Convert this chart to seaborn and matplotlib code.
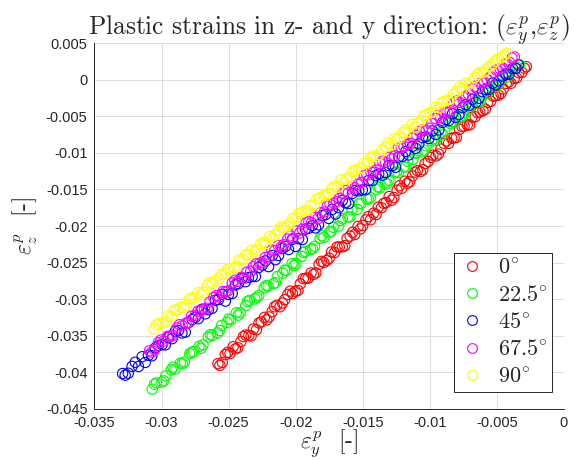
import numpy as np
import pandas as pd
import matplotlib
matplotlib.use("Agg")
import matplotlib.pyplot as plt
from matplotlib.lines import Line2D
import seaborn as sns

# Load angle of each test and the colour used for it
angles = ["0", "22.5", "45", "67.5", "90"]
colors = ["#ff0000", "#00ff00", "#0000ff", "#ff00ff", "#ffff00"]

# Plastic strains (eps_y, eps_z), listed in units of 1e-3
ey_0 = [-25.80, -25.47, -25.25, -24.90, -24.66, -24.31, -24.08, -23.72, -23.49, -23.15,
        -22.92, -22.57, -22.33, -21.98, -21.76, -21.41, -21.17, -20.82, -20.59, -20.24,
        -20.01, -19.66, -19.43, -19.08, -18.85, -18.50, -18.26, -17.91, -17.68, -17.33,
        -17.10, -16.75, -16.52, -16.17, -15.94, -15.59, -15.35, -15.00, -14.77, -14.42,
        -14.19, -13.84, -13.61, -13.26, -13.03, -12.68, -12.44, -12.09, -11.86, -11.51,
        -11.28, -10.93, -10.70, -10.35, -10.12, -9.77, -9.53, -9.18, -8.95, -8.60,
        -8.37, -8.02, -7.79, -7.44, -7.21, -6.86, -6.62, -6.27, -6.04, -5.69,
        -5.46, -5.11, -4.88, -4.53, -4.30, -3.95, -3.71, -3.36, -3.13, -2.81,
        -25.65, -25.07, -24.49, -23.90, -23.32, -22.74, -22.16, -21.58, -20.99, -20.41,
        -19.83, -19.25, -18.67, -18.08, -17.50, -16.92, -16.34, -15.76, -15.17, -14.59,
        -14.01, -13.43, -12.85, -12.26, -11.68, -11.10, -10.52, -9.94, -9.35, -8.77,
        -8.19, -7.61, -7.03, -6.44, -5.86, -5.28, -4.70, -4.12, -3.53, -2.95]
ez_0 = [-38.80, -38.64, -37.57, -37.41, -36.49, -36.63, -35.77, -34.90, -34.94, -34.07,
        -34.16, -33.10, -32.48, -32.42, -31.70, -30.84, -31.03, -30.06, -29.35, -29.23,
        -28.92, -27.91, -27.19, -27.13, -26.41, -26.40, -25.24, -24.97, -24.71, -23.54,
        -23.63, -22.87, -22.85, -21.69, -21.37, -21.16, -20.05, -19.93, -19.17, -19.15,
        -18.24, -17.43, -17.51, -16.80, -15.98, -16.12, -15.11, -14.84, -13.88, -13.96,
        -13.15, -12.44, -12.57, -11.46, -11.19, -10.33, -10.42, -9.50, -8.69, -8.72,
        -8.01, -7.90, -6.78, -6.37, -6.20, -5.14, -5.08, -4.41, -4.25, -3.13,
        -2.97, -2.21, -2.14, -1.28, -0.51, -0.50, 0.16, 0.93, 0.99, 1.76,
        -39.04, -37.26, -36.78, -35.11, -35.03, -33.25, -32.82, -31.04, -30.52, -28.89,
        -28.81, -27.13, -26.60, -24.83, -24.40, -22.87, -22.69, -20.86, -20.39, -18.71,
        -18.43, -16.90, -16.47, -14.50, -14.17, -12.64, -12.31, -10.63, -10.16, -8.38,
        -7.95, -6.42, -6.19, -4.52, -4.04, -2.26, -1.88, -0.30, 0.22, 1.55]

ey_22 = [-30.70, -30.38, -29.98, -29.69, -29.28, -28.99, -28.60, -28.30, -27.90, -27.61,
         -27.20, -26.91, -26.52, -26.22, -25.82, -25.53, -25.12, -24.83, -24.43, -24.14,
         -23.73, -23.45, -23.04, -22.75, -22.35, -22.06, -21.65, -21.37, -20.96, -20.67,
         -20.27, -19.98, -19.57, -19.29, -18.88, -18.59, -18.19, -17.90, -17.49, -17.20,
         -16.80, -16.51, -16.10, -15.82, -15.41, -15.12, -14.72, -14.43, -14.02, -13.74,
         -13.33, -13.04, -12.64, -12.35, -11.94, -11.66, -11.25, -10.96, -10.56, -10.27,
         -9.86, -9.58, -9.17, -8.88, -8.47, -8.19, -7.78, -7.49, -7.09, -6.80,
         -6.39, -6.11, -5.70, -5.41, -5.01, -4.72, -4.31, -4.03, -3.62, -3.30,
         -30.53, -29.84, -29.14, -28.45, -27.76, -27.06, -26.37, -25.67, -24.98, -24.29,
         -23.59, -22.90, -22.21, -21.51, -20.82, -20.13, -19.43, -18.74, -18.05, -17.35,
         -16.66, -15.96, -15.27, -14.58, -13.88, -13.19, -12.50, -11.80, -11.11, -10.42,
         -9.72, -9.03, -8.33, -7.64, -6.95, -6.25, -5.56, -4.87, -4.17, -3.48]
ez_22 = [-42.30, -41.44, -41.33, -40.47, -39.66, -39.55, -38.73, -38.57, -37.46, -37.15,
         -36.44, -36.23, -35.17, -34.96, -34.60, -33.59, -33.18, -32.82, -31.86, -31.84,
         -30.88, -30.17, -29.96, -29.50, -28.44, -28.18, -27.87, -26.91, -26.45, -26.09,
         -25.13, -25.12, -24.15, -23.49, -23.18, -22.77, -21.71, -21.55, -20.84, -20.18,
         -20.02, -19.01, -18.75, -17.79, -17.72, -16.91, -16.25, -16.14, -15.03, -14.77,
         -14.06, -13.75, -12.74, -12.73, -11.92, -11.16, -10.90, -9.98, -9.87, -9.06,
         -8.40, -8.29, -7.23, -6.92, -6.01, -5.90, -5.09, -4.88, -4.02, -3.26,
         -3.14, -2.28, -1.87, -0.96, -0.95, 0.01, 0.32, 1.18, 1.54, 2.05,
         -41.62, -41.15, -39.28, -38.80, -37.28, -36.71, -34.84, -34.27, -32.70, -32.18,
         -30.30, -29.73, -28.16, -27.74, -26.02, -25.40, -23.62, -23.10, -21.33, -20.71,
         -19.24, -18.77, -16.94, -16.32, -14.65, -14.23, -12.61, -11.94, -10.12, -9.64,
         -8.07, -7.55, -5.73, -5.06, -3.44, -2.96, -1.29, -0.62, 0.80, 1.67]

ey_45 = [-32.90, -32.48, -32.20, -31.72, -31.45, -30.98, -30.72, -30.24, -29.96, -29.50,
         -29.21, -28.74, -28.48, -28.00, -27.71, -27.26, -26.98, -26.50, -26.23, -25.76,
         -25.48, -25.01, -24.73, -24.27, -23.99, -23.52, -23.24, -22.77, -22.49, -22.02,
         -21.74, -21.28, -21.00, -20.53, -20.25, -19.78, -19.50, -19.03, -18.76, -18.29,
         -18.00, -17.54, -17.27, -16.79, -16.52, -16.05, -15.77, -15.30, -15.03, -14.56,
         -14.28, -13.81, -13.53, -13.06, -12.79, -12.31, -12.04, -11.57, -11.29, -10.82,
         -10.55, -10.07, -9.80, -9.33, -9.05, -8.58, -8.31, -7.83, -7.56, -7.09,
         -6.81, -6.34, -6.07, -5.59, -5.32, -4.85, -4.57, -4.10, -3.83, -3.40,
         -32.71, -31.96, -31.22, -30.47, -29.72, -28.98, -28.23, -27.48, -26.74, -25.99,
         -25.24, -24.50, -23.75, -23.00, -22.25, -21.51, -20.76, -20.01, -19.27, -18.52,
         -17.77, -17.03, -16.28, -15.53, -14.79, -14.04, -13.29, -12.55, -11.80, -11.05,
         -10.31, -9.56, -8.81, -8.07, -7.32, -6.57, -5.83, -5.08, -4.33, -3.59]
ez_45 = [-40.15, -40.11, -39.18, -39.19, -37.86, -37.67, -37.73, -36.35, -36.21, -35.23,
         -35.39, -34.30, -34.62, -33.18, -32.79, -32.66, -31.37, -31.44, -31.25, -30.06,
         -29.33, -29.34, -29.21, -27.87, -27.13, -27.05, -26.91, -25.68, -25.34, -25.55,
         -24.02, -24.03, -23.09, -23.21, -21.82, -21.74, -21.85, -20.31, -19.93, -19.84,
         -18.56, -18.97, -17.73, -17.50, -16.51, -16.93, -15.54, -15.20, -15.07, -13.78,
         -13.79, -12.91, -13.07, -11.74, -11.75, -10.56, -10.48, -10.29, -9.11, -8.77,
         -7.93, -8.05, -7.01, -6.87, -5.84, -5.60, -4.67, -4.78, -3.84, -3.56,
         -2.67, -2.54, -1.65, -1.36, -0.48, -0.19, 0.49, 0.73, 1.52, 2.00,
         -40.38, -38.61, -38.64, -36.66, -36.24, -34.37, -34.50, -32.47, -32.00, -30.13,
         -30.26, -28.04, -27.61, -26.89, -24.77, -24.60, -22.77, -22.80, -20.43, -20.26,
         -18.44, -18.36, -16.84, -15.12, -15.05, -13.12, -12.70, -11.98, -9.81, -9.39,
         -7.81, -7.49, -5.47, -5.15, -3.42, -3.10, -1.33, -0.71, 0.76, 1.54]

ey_67 = [-30.90, -30.53, -30.24, -29.84, -29.55, -29.15, -28.86, -28.46, -28.18, -27.77,
         -27.49, -27.08, -26.80, -26.39, -26.11, -25.71, -25.42, -25.02, -24.73, -24.33,
         -24.04, -23.64, -23.36, -22.95, -22.67, -22.26, -21.98, -21.57, -21.29, -20.89,
         -20.60, -20.20, -19.91, -19.51, -19.22, -18.82, -18.54, -18.13, -17.85, -17.44,
         -17.16, -16.75, -16.47, -16.07, -15.78, -15.38, -15.09, -14.69, -14.40, -14.00,
         -13.72, -13.31, -13.03, -12.62, -12.34, -11.93, -11.65, -11.25, -10.96, -10.56,
         -10.27, -9.87, -9.58, -9.18, -8.90, -8.49, -8.21, -7.80, -7.52, -7.11,
         -6.83, -6.43, -6.14, -5.74, -5.45, -5.05, -4.76, -4.36, -4.08, -3.70,
         -30.73, -30.04, -29.35, -28.66, -27.98, -27.29, -26.60, -25.91, -25.22, -24.53,
         -23.84, -23.16, -22.47, -21.78, -21.09, -20.40, -19.71, -19.02, -18.34, -17.65,
         -16.96, -16.27, -15.58, -14.89, -14.20, -13.52, -12.83, -12.14, -11.45, -10.76,
         -10.07, -9.38, -8.70, -8.01, -7.32, -6.63, -5.94, -5.25, -4.56, -3.88]
ez_67 = [-37.05, -36.89, -35.93, -35.72, -35.06, -34.95, -33.94, -33.63, -33.27, -32.31,
         -32.20, -31.54, -31.33, -30.37, -29.76, -29.70, -28.94, -28.83, -27.77, -27.56,
         -27.00, -26.29, -26.18, -25.17, -25.06, -24.30, -24.19, -23.38, -22.67, -22.56,
         -21.80, -21.69, -20.68, -20.42, -19.56, -19.55, -18.84, -18.18, -18.07, -17.06,
         -16.90, -16.24, -15.48, -15.47, -14.61, -14.30, -14.04, -13.03, -12.62, -12.36,
         -11.44, -11.28, -10.62, -10.41, -9.35, -9.14, -8.83, -7.97, -7.66, -6.90,
         -6.89, -5.98, -5.32, -5.21, -4.50, -4.24, -3.23, -3.12, -2.36, -2.05,
         -1.29, -1.23, -0.37, 0.04, 0.40, 1.31, 1.47, 2.13, 2.39, 3.10,
         -37.24, -35.57, -35.05, -33.48, -33.21, -31.64, -31.22, -29.50, -28.98, -27.41,
         -27.14, -25.57, -25.00, -23.28, -22.91, -21.34, -20.97, -19.40, -18.98, -17.31,
         -16.69, -15.17, -14.80, -13.08, -12.66, -11.13, -10.81, -9.24, -8.72, -7.10,
         -6.63, -4.91, -4.49, -2.92, -2.50, -0.93, -0.36, 1.01, 1.58, 2.95]

ey_90 = [-30.55, -30.19, -29.92, -29.52, -29.25, -28.86, -28.59, -28.19, -27.92, -27.53,
         -27.26, -26.86, -26.59, -26.20, -25.93, -25.54, -25.26, -24.87, -24.60, -24.21,
         -23.93, -23.54, -23.27, -22.88, -22.61, -22.21, -21.94, -21.55, -21.28, -20.88,
         -20.61, -20.22, -19.95, -19.55, -19.28, -18.89, -18.62, -18.23, -17.95, -17.56,
         -17.29, -16.90, -16.62, -16.23, -15.96, -15.57, -15.29, -14.90, -14.63, -14.24,
         -13.97, -13.57, -13.30, -12.91, -12.64, -12.24, -11.97, -11.58, -11.31, -10.91,
         -10.64, -10.25, -9.98, -9.58, -9.31, -8.92, -8.65, -8.25, -7.98, -7.59,
         -7.32, -6.92, -6.65, -6.26, -5.99, -5.60, -5.32, -4.93, -4.66, -4.30,
         -30.38, -29.72, -29.05, -28.39, -27.72, -27.06, -26.39, -25.73, -25.06, -24.40,
         -23.73, -23.07, -22.41, -21.74, -21.08, -20.41, -19.75, -19.08, -18.42, -17.75,
         -17.09, -16.42, -15.76, -15.09, -14.43, -13.77, -13.10, -12.44, -11.77, -11.11,
         -10.44, -9.78, -9.11, -8.45, -7.78, -7.12, -6.45, -5.79, -5.12, -4.46]
ez_90 = [-34.05, -33.32, -33.20, -32.27, -32.35, -31.52, -31.09, -30.87, -29.94, -29.82,
         -29.09, -29.07, -28.09, -27.81, -27.49, -26.61, -26.44, -25.81, -25.68, -24.66,
         -24.58, -23.96, -23.28, -23.25, -22.43, -22.40, -21.43, -21.20, -20.57, -20.20,
         -19.97, -18.95, -18.87, -18.15, -17.87, -17.14, -17.17, -16.14, -15.87, -15.59,
         -14.86, -14.69, -13.71, -13.59, -13.31, -12.43, -12.11, -11.43, -11.31, -10.43,
         -10.50, -9.63, -9.20, -8.98, -8.05, -7.93, -7.20, -7.12, -6.10, -5.92,
         -5.60, -4.77, -4.54, -3.77, -3.84, -2.97, -2.79, -1.96, -1.59, -1.26,
         -0.49, -0.36, 0.32, 0.99, 1.02, 1.79, 2.12, 2.80, 3.02, 3.60,
         -33.51, -33.11, -31.51, -31.10, -29.80, -29.35, -27.75, -27.20, -25.90, -25.49,
         -23.89, -23.54, -22.24, -21.74, -20.13, -19.63, -18.28, -17.88, -16.28, -15.88,
         -14.57, -14.12, -12.52, -12.12, -10.72, -10.26, -8.66, -8.16, -6.86, -6.51,
         -4.91, -4.45, -3.15, -2.65, -1.05, -0.70, 0.71, 1.31, 2.51, 3.31]

x_ticks = [-0.035, -0.03, -0.025, -0.02, -0.015, -0.01, -0.005, 0.0]
x_tick_labels = ["-0.035", "-0.03", "-0.025", "-0.02", "-0.015", "-0.01", "-0.005", "0"]
y_ticks = [0.005, 0.0, -0.005, -0.01, -0.015, -0.02, -0.025, -0.03, -0.035, -0.04, -0.045]
y_tick_labels = ["0.005", "0", "-0.005", "-0.01", "-0.015", "-0.02", "-0.025",
                 "-0.03", "-0.035", "-0.04", "-0.045"]

# Long-form table of all tests
series_y = [ey_0, ey_22, ey_45, ey_67, ey_90]
series_z = [ez_0, ez_22, ez_45, ez_67, ez_90]
frames = []
for a, ey, ez in zip(angles, series_y, series_z):
    frames.append(pd.DataFrame({"eps_y": np.asarray(ey) * 1e-3,
                                "eps_z": np.asarray(ez) * 1e-3,
                                "angle": a}))
df = pd.concat(frames, ignore_index=True)

sns.set_style("white")
plt.rcParams["mathtext.fontset"] = "cm"
plt.rcParams["font.family"] = ["Liberation Sans", "DejaVu Sans"]
plt.rcParams["axes.unicode_minus"] = False

fig = plt.figure(figsize=(5.75, 4.61), dpi=100)
ax = fig.add_axes([0.1643, 0.1128, 0.8165, 0.7939])

sns.scatterplot(data=df, x="eps_y", y="eps_z", hue="angle", hue_order=angles,
                palette=dict(zip(angles, colors)), s=55, linewidth=0.8,
                legend=False, ax=ax, zorder=3)
# open circles: move the fill colour to the edge
coll = ax.collections[0]
fc = coll.get_facecolors()
coll.set_edgecolors(fc)
coll.set_facecolors("none")

ax.set_xlim(-0.035, 0.0)
ax.set_ylim(-0.045, 0.005)
ax.set_xticks(x_ticks)
ax.set_xticklabels(x_tick_labels)
ax.set_yticks(y_ticks)
ax.set_yticklabels(y_tick_labels)

ax.grid(True, color="#dcdcdc", linewidth=0.7)
ax.set_axisbelow(True)
for side in ["top", "right"]:
    ax.spines[side].set_visible(False)
for side in ["left", "bottom"]:
    ax.spines[side].set_color("#262626")
    ax.spines[side].set_linewidth(0.7)
ax.tick_params(direction="in", length=4, width=0.7, colors="#262626",
               labelsize=10.5, pad=5)
for lbl in ax.get_xticklabels() + ax.get_yticklabels():
    lbl.set_color("#262626")

ax.set_xlabel(r"$\varepsilon^p_y$  [-]", fontsize=17, fontfamily="cmr10", labelpad=-2)
ax.set_ylabel(r"$\varepsilon^p_z$  [-]", fontsize=17, fontfamily="cmr10", labelpad=4)
ax.set_title(r"Plastic strains in z- and y direction: $(\varepsilon^p_y$,$\varepsilon^p_z)$",
             fontsize=18.3, fontfamily="cmr10", pad=6)

handles = [Line2D([], [], ls="", marker="o", markersize=7, mfc="none", mec=c, mew=0.8)
           for c in colors]
labels = [rf"${a}^{{\!\circ}}$" for a in angles]
leg = ax.legend(handles, labels, loc="lower right", bbox_to_anchor=(0.975, 0.046),
                frameon=True, fancybox=False, edgecolor="#262626", fontsize=16,
                handlelength=1.25, handletextpad=0.55, borderpad=0.2, labelspacing=0.28,
                borderaxespad=0.0)
leg.get_frame().set_linewidth(0.7)
leg.get_frame().set_facecolor("white")
leg.get_frame().set_alpha(1.0)

fig.savefig("out.png", dpi=100)
